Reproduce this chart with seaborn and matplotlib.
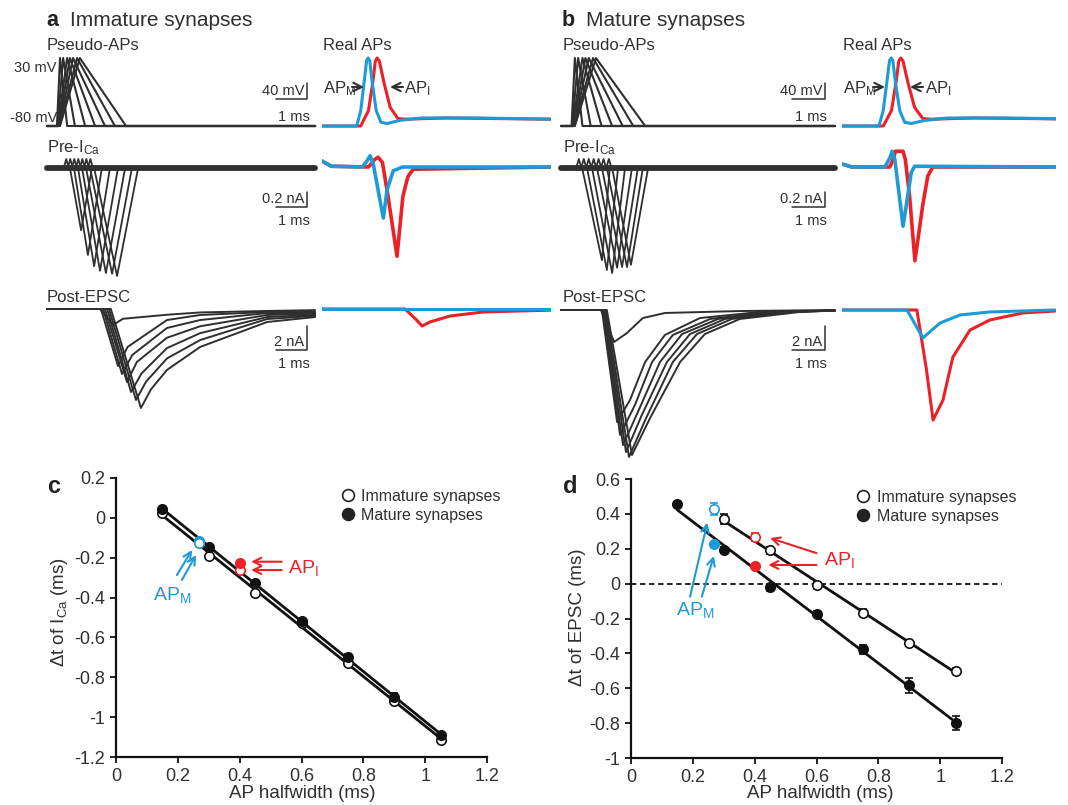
import matplotlib
matplotlib.use("Agg")
import matplotlib.pyplot as plt
import seaborn as sns
from matplotlib.lines import Line2D
from matplotlib.patches import FancyArrowPatch

# ===================== DATA =====================
# --- pseudo-AP commands (ms / mV) ---
pseudo_onset = [0.32, 0.34, 0.35, 0.37, 0.39, 0.40, 0.42]
pseudo_peak = [0.42, 0.52, 0.65, 0.74, 0.84, 0.97, 1.06]
pseudo_end = [0.65, 0.90, 1.23, 1.55, 1.87, 2.19, 2.55]
rest_mv, peak_mv = -80, 30
sweep_a, sweep_b = 8.65, 8.30

# --- real APs (ms / mV) ---
apM_t = [0, 1.12, 1.25, 1.38, 1.44, 1.49, 1.54, 1.62, 1.75, 1.90, 2.10, 2.50, 3.20, 5.00, 7.40]
apM_v = [-80, -80, -55, 0, 26, 30, 26, -10, -55, -74, -76, -71, -67, -67, -69]
apI_t = [0, 1.25, 1.50, 1.65, 1.72, 1.78, 1.85, 2.00, 2.20, 2.45, 2.70, 4.00, 7.40]
apI_v = [-80, -80, -55, -5, 25, 30, 25, -10, -50, -68, -69, -67, -69]

# --- presynaptic ICa to pseudo-APs (ms / nA) ---
icaA_bump_t = [0.62, 0.75, 0.88, 1.01, 1.14, 1.27, 1.40]
icaA_start = [0.74, 0.87, 1.00, 1.13, 1.26, 1.39, 1.52]
icaA_trough_t = [1.10, 1.32, 1.52, 1.71, 1.90, 2.10, 2.26]
icaA_trough = [-0.83, -1.16, -1.31, -1.37, -1.40, -1.41, -1.44]
icaA_end = [1.45, 1.77, 2.03, 2.29, 2.52, 2.74, 2.94]
icaB_bump_t = [0.54, 0.69, 0.84, 0.99, 1.14, 1.29, 1.45]
icaB_start = [0.64, 0.79, 0.94, 1.09, 1.24, 1.39, 1.55]
icaB_trough_t = [1.24, 1.39, 1.55, 1.70, 1.85, 2.00, 2.12]
icaB_trough = [-1.23, -1.36, -1.40, -1.33, -1.32, -1.32, -1.29]
icaB_end = [1.48, 1.73, 1.94, 2.15, 2.33, 2.48, 2.64]
ica_bump = 0.12

# --- presynaptic ICa to real APs ---
icaM_a_t = [0, 0.3, 1.3, 1.45, 1.55, 1.65, 1.85, 1.98, 2.1, 2.3, 2.6, 7.4]
icaM_a_i = [0.08, 0.01, 0.0, 0.08, 0.15, 0.05, -0.4, -0.68, -0.3, -0.05, 0.0, 0.0]
icaI_a_t = [0, 0.3, 1.5, 1.7, 1.81, 1.95, 2.13, 2.42, 2.61, 2.77, 2.94, 7.4]
icaI_a_i = [0.08, 0.01, 0.0, 0.1, 0.13, 0.06, -0.39, -1.19, -0.39, -0.13, -0.03, 0.0]
icaM_b_t = [0, 0.3, 1.3, 1.45, 1.52, 1.6, 1.85, 2.1, 2.2, 6.45]
icaM_b_i = [0.04, 0.0, 0.0, 0.12, 0.21, 0.1, -0.79, -0.07, 0.01, 0.0]
icaI_b_t = [0, 0.3, 1.45, 1.55, 1.62, 1.85, 1.92, 2.05, 2.21, 2.45, 2.6, 2.75, 6.45]
icaI_b_i = [0.04, 0.0, 0.0, 0.1, 0.21, 0.21, 0.1, -0.4, -1.25, -0.5, -0.12, 0.0, 0.0]

# --- EPSCs to pseudo-APs (ms / nA) ---
epscA_t = [
    [0, 1.71, 2.13, 2.45, 3.87, 4.94, 7.10, 8.65],
    [0, 1.74, 2.29, 2.60, 3.87, 4.94, 7.10, 8.65],
    [0, 1.81, 2.42, 2.75, 3.87, 4.94, 7.10, 8.65],
    [0, 1.87, 2.58, 2.90, 3.87, 4.94, 7.10, 8.65],
    [0, 1.94, 2.71, 3.05, 3.87, 4.94, 7.10, 8.65],
    [0, 2.00, 2.87, 3.20, 3.87, 4.94, 7.10, 8.65],
    [0, 2.06, 3.03, 3.35, 3.87, 4.94, 7.10, 8.65]]
epscA_i = [
    [0, 0, -1.39, -0.85, -0.50, -0.30, -0.17, -0.10],
    [0, 0, -4.96, -3.30, -0.96, -0.52, -0.26, -0.26],
    [0, 0, -5.65, -4.00, -1.65, -0.96, -0.35, -0.35],
    [0, 0, -6.35, -4.60, -2.50, -1.50, -0.52, -0.43],
    [0, 0, -7.22, -5.60, -3.40, -2.10, -0.70, -0.52],
    [0, 0, -7.91, -6.30, -4.30, -2.70, -0.87, -0.60],
    [0, 0, -8.61, -7.00, -5.30, -3.30, -1.13, -0.70]]
epscB_t = [
    [0, 1.21, 1.61, 2.00, 2.48, 3.15, 5.42, 8.30],
    [0, 1.24, 1.70, 2.09, 2.55, 3.15, 4.21, 6.03, 8.30],
    [0, 1.27, 1.79, 2.24, 2.76, 3.39, 4.52, 6.33, 8.30],
    [0, 1.30, 1.88, 2.33, 3.00, 3.67, 4.76, 6.64, 8.30],
    [0, 1.33, 1.97, 2.45, 3.21, 3.91, 4.97, 6.79, 8.30],
    [0, 1.36, 2.06, 2.58, 3.39, 4.12, 5.18, 6.94, 8.30],
    [0, 1.39, 2.15, 2.70, 3.61, 4.36, 5.42, 7.24, 8.30]]
epscB_i = [
    [0, 0, -2.78, -2.00, -0.70, -0.26, -0.09, 0],
    [0, 0, -9.74, -7.83, -4.52, -2.17, -0.70, -0.17, -0.05],
    [0, 0, -10.87, -8.26, -4.52, -2.17, -0.78, -0.17, -0.05],
    [0, 0, -11.74, -8.87, -4.52, -2.09, -0.78, -0.17, -0.05],
    [0, 0, -12.35, -9.13, -4.52, -2.09, -0.78, -0.17, -0.05],
    [0, 0, -12.78, -9.39, -4.52, -2.09, -0.78, -0.17, -0.05],
    [0, 0, -12.61, -9.39, -4.52, -2.09, -0.78, -0.17, -0.05]]

# --- EPSCs to real APs ---
epscM_a_t = [0, 7.4]
epscM_a_i = [0, 0]
epscI_a_t = [0, 2.68, 3.03, 3.23, 3.48, 4.13, 5.2, 6.4, 7.4]
epscI_a_i = [0, 0, -0.9, -1.48, -1.13, -0.61, -0.26, -0.17, -0.1]
epscM_b_t = [0, 1.97, 2.45, 2.97, 3.58, 4.48, 6.45]
epscM_b_i = [0, 0, -2.43, -1.13, -0.43, -0.17, 0]
epscI_b_t = [0, 2.27, 2.55, 2.76, 3.06, 3.36, 3.88, 4.48, 5.48, 6.45]
epscI_b_i = [0, 0, -5.0, -9.57, -7.83, -4.09, -1.74, -0.87, -0.26, -0.09]

# --- summary data (ms) ---
halfwidth = [0.15, 0.30, 0.45, 0.60, 0.75, 0.90, 1.05]
c_imm = [0.023, -0.19, -0.375, -0.53, -0.727, -0.917, -1.115]
c_imm_err = [0.01, 0.01, 0.01, 0.01, 0.012, 0.015, 0.015]
c_mat = [0.043, -0.148, -0.328, -0.518, -0.697, -0.90, -1.09]
c_mat_err = [0.01, 0.01, 0.01, 0.01, 0.015, 0.02, 0.015]
d_hw_imm = [0.30, 0.45, 0.60, 0.75, 0.90, 1.05]
d_imm = [0.370, 0.190, -0.008, -0.167, -0.339, -0.50]
d_imm_err = [0.03, 0.02, 0.02, 0.02, 0.015, 0.015]
d_mat = [0.458, 0.194, -0.021, -0.174, -0.377, -0.582, -0.799]
d_mat_err = [0.01, 0.015, 0.02, 0.015, 0.025, 0.043, 0.042]
real_hw = [0.27, 0.40]            # AP_M, AP_I
c_real_imm = [-0.125, -0.262]
c_real_mat = [-0.115, -0.225]
d_real_imm = [0.428, 0.267]
d_real_imm_err = [0.036, 0.025]
d_real_mat = [0.226, 0.102]
ticks_x = [0, 0.2, 0.4, 0.6, 0.8, 1.0, 1.2]
ticklab_x = ["0", "0.2", "0.4", "0.6", "0.8", "1", "1.2"]
ticks_c = [0.2, 0, -0.2, -0.4, -0.6, -0.8, -1.0, -1.2]
ticklab_c = ["0.2", "0", "-0.2", "-0.4", "-0.6", "-0.8", "-1", "-1.2"]
ticks_d = [0.6, 0.4, 0.2, 0, -0.2, -0.4, -0.6, -0.8, -1.0]
ticklab_d = ["0.6", "0.4", "0.2", "0", "-0.2", "-0.4", "-0.6", "-0.8", "-1"]

# ===================== STYLE =====================
sns.set_style("white")
plt.rcParams["font.family"] = ["Liberation Sans", "DejaVu Sans"]
plt.rcParams["mathtext.fontset"] = "custom"
plt.rcParams["mathtext.rm"] = "Liberation Sans"
plt.rcParams["mathtext.it"] = "Liberation Sans:italic"
plt.rcParams["mathtext.bf"] = "Liberation Sans:bold"
plt.rcParams["mathtext.default"] = "regular"

TXT = "#303030"
TRC = "#2f2f2f"
BLUE = "#1e9bd7"
RED = "#ec2027"

W, H = 1068, 805
fig = plt.figure(figsize=(W / 100, H / 100), dpi=100)
fig.patch.set_facecolor("white")


def fx(x):
    return x / W


def fy(y):
    return 1 - y / H


def ftext(x, y, s, **kw):
    kw.setdefault("color", TXT)
    kw.setdefault("va", "center")
    fig.text(fx(x), fy(y), s, **kw)


def fline(xs, ys, **kw):
    kw.setdefault("color", TXT)
    kw.setdefault("lw", 1.1)
    fig.add_artist(Line2D([fx(v) for v in xs], [fy(v) for v in ys],
                          transform=fig.transFigure, **kw))


def farrow(x_tail, x_head, y, color=TXT):
    fig.add_artist(FancyArrowPatch((fx(x_tail), fy(y)), (fx(x_head), fy(y)),
                                   transform=fig.transFigure, arrowstyle="->",
                                   mutation_scale=15, lw=1.5, color=color,
                                   shrinkA=0, shrinkB=0))


limits = []


def trace_ax(L, R, T, B, x0, y0, sx, sy, v0=0.0):
    ax = fig.add_axes([fx(L), fy(B), (R - L) / W, (B - T) / H])
    ax.axis("off")
    limits.append((ax, ((L - x0) / sx, (R - x0) / sx),
                   (v0 - (B - y0) / sy, v0 + (y0 - T) / sy)))
    return ax


def draw(ax, t, v, color=TRC, lw=1.3, z=2):
    sns.lineplot(x=t, y=v, ax=ax, color=color, lw=lw, estimator=None,
                 sort=False, zorder=z, legend=False)


def scalebar(xr, yt, yb, xl, lab_v, lab_h, yh_text):
    fline([xl, xr, xr], [yb, yb, yt])
    ftext(xr - 3, yb - 8, lab_v, ha="right", fontsize=10.5)
    ftext((xl + xr) / 2 + 2, yh_text, lab_h, ha="center", fontsize=10.5)


# ===================== TOP PANELS =====================
panels = [
    dict(x0=47, sx=31, xr0=322, xr1=551, L=40, R=318, sweep=sweep_a,
         ica=(icaA_bump_t, icaA_start, icaA_trough_t, icaA_trough, icaA_end),
         icaM=(icaM_a_t, icaM_a_i), icaI=(icaI_a_t, icaI_a_i),
         epsc=(epscA_t, epscA_i), epM=(epscM_a_t, epscM_a_i), epI=(epscI_a_t, epscI_a_i),
         y3=309, letter="a", title="Immature synapses", lx=46, tx=70,
         bar_xl=276, bar_xr=307, realx=323),
    dict(x0=561, sx=33, xr0=842, xr1=1056, L=553, R=838, sweep=sweep_b,
         ica=(icaB_bump_t, icaB_start, icaB_trough_t, icaB_trough, icaB_end),
         icaM=(icaM_b_t, icaM_b_i), icaI=(icaI_b_t, icaI_b_i),
         epsc=(epscB_t, epscB_i), epM=(epscM_b_t, epscM_b_i), epI=(epscI_b_t, epscI_b_i),
         y3=310, letter="b", title="Mature synapses", lx=562, tx=586,
         bar_xl=792, bar_xr=825, realx=843),
]

for p in panels:
    # titles
    ftext(p["lx"], 21, p["letter"], fontsize=15.5, fontweight="bold", color="#222")
    ftext(p["tx"], 21, p["title"], fontsize=15)
    ftext(p["lx"] + 1, 45, "Pseudo-APs", fontsize=12)
    ftext(p["realx"], 45, "Real APs", fontsize=12)
    ftext(p["lx"] + 1, 148, "Pre-I$_{\\rm Ca}$", fontsize=12)
    ftext(p["lx"] + 1, 297, "Post-EPSC", fontsize=12)

    # row 1: APs
    ax = trace_ax(p["L"], p["R"], 50, 135, p["x0"], 126, p["sx"], 0.618, rest_mv)
    for on, pk, en in zip(pseudo_onset, pseudo_peak, pseudo_end):
        draw(ax, [0, on, pk, en, p["sweep"]], [rest_mv, rest_mv, peak_mv, rest_mv, rest_mv],
             lw=1.5)
    ax = trace_ax(p["xr0"], p["xr1"], 50, 135, p["xr0"], 126, p["sx"], 0.618, rest_mv)
    draw(ax, apI_t, apI_v, RED, 2.2)
    draw(ax, apM_t, apM_v, BLUE, 2.2, 3)

    # row 2: ICa
    ax = trace_ax(p["L"], p["R"], 140, 290, p["x0"], 168, p["sx"], 75.0)
    draw(ax, [0, p["sweep"]], [0, 0], lw=4.2)
    bt, st, tt, ti, et = p["ica"]
    for b, s, t, i, e in zip(bt, st, tt, ti, et):
        draw(ax, [0, b - 0.08, b, b + 0.08, s, t, e, p["sweep"]],
             [0, 0, ica_bump, 0, 0, i, 0, 0], lw=1.3)
    ax = trace_ax(p["xr0"], p["xr1"], 140, 290, p["xr0"], 167, p["sx"], 75.0)
    draw(ax, *p["icaI"], RED, 2.6)
    draw(ax, *p["icaM"], BLUE, 2.6, 3)

    # row 3: EPSC
    ax = trace_ax(p["L"], p["R"], 300, 470, p["x0"], p["y3"], p["sx"], 11.5)
    for t, i in zip(*p["epsc"]):
        draw(ax, t, i, lw=1.4)
    ax = trace_ax(p["xr0"], p["xr1"], 300, 470, p["xr0"], p["y3"], p["sx"], 11.5)
    draw(ax, *p["epI"], RED, 2.2)
    draw(ax, *p["epM"], BLUE, 2.2, 3)

    # scale bars
    xl, xr = p["bar_xl"], p["bar_xr"]
    scalebar(xr, 83, 99, xl, "40 mV", "1 ms", 117)
    scalebar(xr, 192, 207, xl, "0.2 nA", "1 ms", 221)
    scalebar(xr, 326, 350, xl, "2 nA", "1 ms", 364)

ftext(57, 68, "30 mV", ha="right", fontsize=10.5)
ftext(57, 118, "-80 mV", ha="right", fontsize=10.5)

# AP labels with arrows
for xm, am0, am1, ai0, ai1, xi in [(323, 352, 364, 403, 390, 404),
                                    (843, 873, 885, 923, 910, 925)]:
    ftext(xm, 89, "AP$_{\\rm M}$", fontsize=12)
    farrow(am0, am1, 87)
    farrow(ai0, ai1, 87)
    ftext(xi, 89, "AP$_{\\rm I}$", fontsize=12)

for ax, xl, yl in limits:
    ax.set_xlim(*xl)
    ax.set_ylim(*yl)


# ===================== BOTTOM PANELS =====================
def summary_ax(L, R, T, B, ylim, yticks, ylabs):
    ax = fig.add_axes([fx(L), fy(B), (R - L) / W, (B - T) / H])
    ax.set_facecolor("white")
    for s in ["top", "right"]:
        ax.spines[s].set_visible(False)
    for s in ["left", "bottom"]:
        ax.spines[s].set_color("#111")
        ax.spines[s].set_linewidth(1.6)
    ax.set_xlim(0, 1.2)
    ax.set_ylim(*ylim)
    ax.set_xticks(ticks_x)
    ax.set_xticklabels(ticklab_x)
    ax.set_yticks(yticks)
    ax.set_yticklabels(ylabs)
    ax.tick_params(direction="out", length=4, width=1.3, labelsize=13,
                   labelcolor=TXT, color="#111", pad=4, left=True, bottom=True)
    return ax


def arrow(ax, tail, head, color):
    ax.annotate("", xy=head, xytext=tail,
                arrowprops=dict(arrowstyle="->", color=color, lw=1.5,
                                shrinkA=0, shrinkB=0, mutation_scale=14))


def points(ax, x, y, face, edge, z, err=None):
    if err is not None:
        ax.errorbar(x, y, yerr=err, fmt="none", ecolor=edge, elinewidth=1.2,
                    capsize=3, capthick=1.2, zorder=z - 0.5)
    sns.scatterplot(x=x, y=y, ax=ax, s=46, color=face, edgecolor=edge,
                    linewidth=1.2, zorder=z, legend=False)


def legend(ax, bx, by):
    h = [Line2D([], [], ls="", marker="o", ms=8.5, mfc="white", mec="#222", mew=1.2),
         Line2D([], [], ls="", marker="o", ms=8.5, mfc="#222", mec="#222", mew=1.2)]
    lg = ax.legend(h, ["Immature synapses", "Mature synapses"], loc="upper left",
                   bbox_to_anchor=(bx, by), frameon=False, fontsize=11.5,
                   handlelength=1.0, handletextpad=0.35, labelspacing=0.25,
                   borderaxespad=0, borderpad=0)
    for t in lg.get_texts():
        t.set_color(TXT)


# ---- panel c ----
axc = summary_ax(116, 487, 478, 757, (-1.2, 0.2), ticks_c, ticklab_c)
sns.regplot(x=halfwidth, y=c_imm, ax=axc, scatter=False, ci=None,
            line_kws=dict(color="#111", lw=2.0, zorder=2))
sns.regplot(x=halfwidth, y=c_mat, ax=axc, scatter=False, ci=None,
            line_kws=dict(color="#111", lw=2.0, zorder=2))
points(axc, halfwidth, c_imm, "white", "#111", 4, c_imm_err)
points(axc, halfwidth, c_mat, "#111", "#111", 5, c_mat_err)
points(axc, [real_hw[0]], [c_real_mat[0]], BLUE, BLUE, 6)
points(axc, [real_hw[0]], [c_real_imm[0]], "white", BLUE, 7)
points(axc, [real_hw[1]], [c_real_imm[1]], "white", RED, 6)
points(axc, [real_hw[1]], [c_real_mat[1]], RED, RED, 7)
arrow(axc, (0.197, -0.287), (0.246, -0.161), BLUE)
arrow(axc, (0.213, -0.312), (0.259, -0.186), BLUE)
arrow(axc, (0.536, -0.220), (0.437, -0.220), RED)
arrow(axc, (0.536, -0.262), (0.437, -0.262), RED)
axc.text(0.183, -0.387, "AP$_{\\rm M}$", color=BLUE, fontsize=14, ha="center", va="center")
axc.text(0.556, -0.252, "AP$_{\\rm I}$", color=RED, fontsize=14, ha="left", va="center")
axc.set_xlabel("")
axc.set_ylabel("")
legend(axc, 0.603, 0.962)

# ---- panel d ----
axd = summary_ax(631, 1002, 479, 758, (-1.0, 0.6), ticks_d, ticklab_d)
axd.axhline(0, color="#111", lw=1.3, ls=(0, (3, 2)), zorder=1)
sns.regplot(x=d_hw_imm, y=d_imm, ax=axd, scatter=False, ci=None,
            line_kws=dict(color="#111", lw=2.0, zorder=2))
sns.regplot(x=halfwidth, y=d_mat, ax=axd, scatter=False, ci=None,
            line_kws=dict(color="#111", lw=2.0, zorder=2))
points(axd, d_hw_imm, d_imm, "white", "#111", 4, d_imm_err)
points(axd, halfwidth, d_mat, "#111", "#111", 5, d_mat_err)
points(axd, [real_hw[0]], [d_real_imm[0]], "white", BLUE, 6, [d_real_imm_err[0]])
points(axd, [real_hw[0]], [d_real_mat[0]], BLUE, BLUE, 6)
points(axd, [real_hw[1]], [d_real_imm[1]], "white", RED, 6, [d_real_imm_err[1]])
points(axd, [real_hw[1]], [d_real_mat[1]], RED, RED, 6)
arrow(axd, (0.191, -0.075), (0.247, 0.35), BLUE)
arrow(axd, (0.229, -0.075), (0.268, 0.159), BLUE)
arrow(axd, (0.600, 0.175), (0.450, 0.261), RED)
arrow(axd, (0.600, 0.107), (0.444, 0.107), RED)
axd.text(0.207, -0.151, "AP$_{\\rm M}$", color=BLUE, fontsize=14, ha="center", va="center")
axd.text(0.624, 0.136, "AP$_{\\rm I}$", color=RED, fontsize=14, ha="left", va="center")
axd.set_xlabel("")
axd.set_ylabel("")
legend(axd, 0.605, 0.962)

# panel letters and axis titles
ftext(47, 486, "c", fontsize=17, fontweight="bold", color="#222")
ftext(563, 486, "d", fontsize=17, fontweight="bold", color="#222")
ftext(60, 612, "Δt of I$_{\\rm Ca}$ (ms)", rotation=90, ha="center", fontsize=13.5)
ftext(577, 617, "Δt of EPSC (ms)", rotation=90, ha="center", fontsize=13.5)
ftext(302, 793, "AP halfwidth (ms)", ha="center", fontsize=13.5)
ftext(820, 793, "AP halfwidth (ms)", ha="center", fontsize=13.5)

fig.savefig("out.png", dpi=100, facecolor="white")
